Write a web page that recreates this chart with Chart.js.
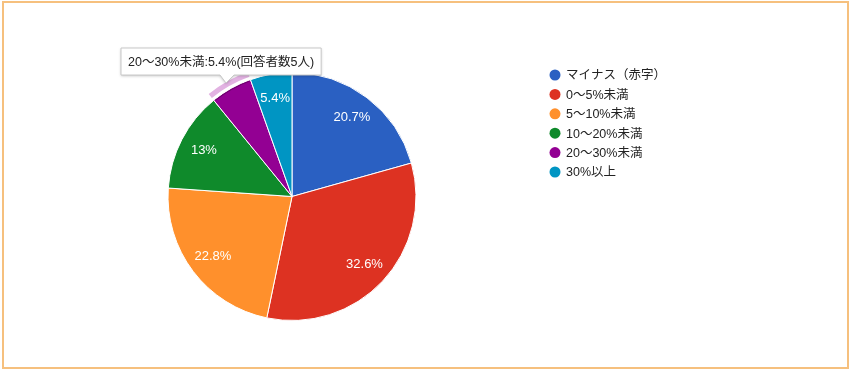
<!DOCTYPE html>
<html lang="ja">
<head>
<meta charset="UTF-8">
<title>利益率</title>
<script src="https://cdn.jsdelivr.net/npm/chart.js"></script>
<style>
  body { margin: 0; background: #fff; }
  .wrap { position: relative; width: 850px; height: 372px; }
  .frame {
    position: absolute; left: 2px; top: 1px; width: 843px; height: 364px;
    border: 2px solid #f6c07e; pointer-events: none;
  }
  canvas { position: absolute; left: 0; top: 0; }
</style>
</head>
<body>
<div class="wrap">
  <canvas id="pie" width="850" height="372"></canvas>
  <div class="frame"></div>
</div>
<script>
// 回答の区分と人数
const labels = ['マイナス（赤字）', '0～5%未満', '5～10%未満', '10～20%未満', '20～30%未満', '30%以上'];
const counts = [19, 30, 21, 12, 5, 5];
const colors = ['#2a60c2', '#dd3222', '#ff902c', '#0f8a2b', '#930093', '#0095c3'];
const highlightIndex = 4; // ツールチップを表示するスライス

const FONT = "'Liberation Sans', Arial, 'Noto Sans CJK JP', sans-serif";
const total = counts.reduce((a, b) => a + b, 0);

function pctText(v) {
  let p = (v / total * 100).toFixed(1);
  if (p.endsWith('.0')) p = p.slice(0, -2);
  return p + '%';
}

// スライス上のパーセント表示（選択中のスライスは表示しない）
const sliceLabels = {
  id: 'sliceLabels',
  afterDatasetsDraw(chart) {
    const ctx = chart.ctx;
    const arcs = chart.getDatasetMeta(0).data;
    ctx.save();
    ctx.font = '13px ' + FONT;
    ctx.fillStyle = '#fff';
    ctx.textAlign = 'center';
    ctx.textBaseline = 'middle';
    arcs.forEach((arc, i) => {
      if (i === highlightIndex) return;
      const mid = (arc.startAngle + arc.endAngle) / 2;
      const r = arc.outerRadius * 0.8;
      ctx.fillText(pctText(counts[i]), arc.x + Math.cos(mid) * r, arc.y + Math.sin(mid) * r);
    });
    ctx.restore();
  }
};

// 選択スライスの外側のハイライト
const halo = {
  id: 'halo',
  afterDatasetsDraw(chart) {
    const ctx = chart.ctx;
    const arc = chart.getDatasetMeta(0).data[highlightIndex];
    ctx.save();
    ctx.beginPath();
    ctx.arc(arc.x, arc.y, arc.outerRadius + 8, arc.startAngle, arc.endAngle);
    ctx.arc(arc.x, arc.y, arc.outerRadius + 3, arc.endAngle, arc.startAngle, true);
    ctx.closePath();
    ctx.fillStyle = '#e2b2e2';
    ctx.fill();
    ctx.beginPath();
    ctx.arc(arc.x, arc.y, arc.outerRadius - 1, arc.startAngle + 0.01, arc.endAngle - 0.01);
    ctx.strokeStyle = '#6e006e';
    ctx.lineWidth = 1.2;
    ctx.stroke();
    ctx.restore();
  }
};

// ツールチップ（固定表示）
const fixedTip = {
  id: 'fixedTip',
  afterDraw(chart) {
    const ctx = chart.ctx;
    const i = highlightIndex;
    const text = labels[i] + ':' + pctText(counts[i]) + '(回答者数' + counts[i] + '人)';
    ctx.save();
    ctx.font = '12.5px ' + FONT;
    const w = ctx.measureText(text).width + 14;
    const x = 121, y = 48, h = 27;
    ctx.shadowColor = 'rgba(0,0,0,0.25)';
    ctx.shadowBlur = 3;
    ctx.shadowOffsetY = 1;
    ctx.beginPath();
    ctx.moveTo(x, y);
    ctx.lineTo(x + w, y);
    ctx.lineTo(x + w, y + h);
    ctx.lineTo(234, y + h);
    ctx.lineTo(226, y + h + 8);
    ctx.lineTo(220, y + h);
    ctx.lineTo(x, y + h);
    ctx.closePath();
    ctx.fillStyle = '#fff';
    ctx.fill();
    ctx.shadowColor = 'transparent';
    ctx.strokeStyle = '#c8c8c8';
    ctx.lineWidth = 1;
    ctx.stroke();
    ctx.fillStyle = '#222';
    ctx.textBaseline = 'middle';
    ctx.fillText(text, x + 7, y + h / 2 + 1);
    ctx.restore();
  }
};

// 凡例
const sideLegend = {
  id: 'sideLegend',
  afterDraw(chart) {
    const ctx = chart.ctx;
    const ds = chart.data.datasets[0];
    ctx.save();
    ctx.font = '12.5px ' + FONT;
    ctx.textBaseline = 'middle';
    chart.data.labels.forEach((lab, i) => {
      const cy = 75 + i * 19.4;
      ctx.beginPath();
      ctx.arc(555, cy, 5.5, 0, Math.PI * 2);
      ctx.fillStyle = ds.backgroundColor[i];
      ctx.fill();
      ctx.fillStyle = '#222';
      ctx.fillText(lab, 566, cy + 1);
    });
    ctx.restore();
  }
};

new Chart(document.getElementById('pie'), {
  type: 'pie',
  data: {
    labels: labels,
    datasets: [{
      data: counts,
      backgroundColor: colors,
      borderColor: '#fff',
      borderWidth: 1,
      hoverOffset: 0
    }]
  },
  options: {
    responsive: false,
    animation: false,
    events: [],
    layout: { padding: { left: 167, right: 433, top: 72, bottom: 51 } },
    plugins: {
      legend: { display: false },
      tooltip: { enabled: false }
    }
  },
  plugins: [halo, sliceLabels, sideLegend, fixedTip]
});
</script>
</body>
</html>
